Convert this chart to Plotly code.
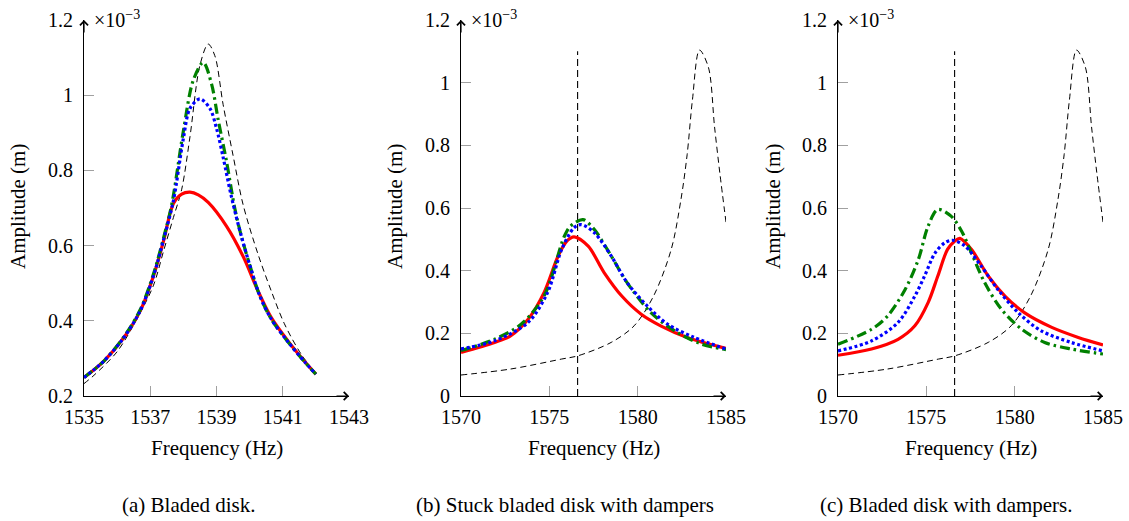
import plotly.graph_objects as go

# ---------------- data (amplitude in 1e-3 m) ----------------
# Panel (a) Bladed disk
fa_red = [1535, 1535.6, 1536.2, 1536.7, 1537.1, 1537.4, 1537.7, 1537.95, 1538.2, 1538.45, 1538.75,
          1539.3, 1539.8, 1540.25, 1540.65, 1541.15, 1541.65, 1542]
aa_red = [0.249, 0.293, 0.355, 0.427, 0.52, 0.612, 0.712, 0.737, 0.742, 0.735, 0.715,
          0.652, 0.572, 0.48, 0.409, 0.347, 0.293, 0.258]

fa_blue = [1535, 1535.6, 1536.2, 1536.7, 1537.1, 1537.4, 1537.7, 1538.0, 1538.2, 1538.5, 1538.8,
           1539.0, 1539.2, 1539.45, 1539.75, 1540.05, 1540.3, 1540.65, 1541.15, 1541.65, 1542]
aa_blue = [0.249, 0.293, 0.355, 0.427, 0.52, 0.615, 0.72, 0.885, 0.965, 0.99, 0.965,
           0.912, 0.835, 0.73, 0.625, 0.535, 0.468, 0.405, 0.345, 0.292, 0.258]

fa_green = [1535, 1535.6, 1536.2, 1536.7, 1537.1, 1537.4, 1537.65, 1538.0, 1538.3, 1538.6, 1538.85,
            1539.05, 1539.3, 1539.55, 1539.75, 1540.05, 1540.3, 1540.65, 1541.15, 1541.65, 1542]
aa_green = [0.249, 0.293, 0.357, 0.43, 0.525, 0.62, 0.71, 0.905, 1.04, 1.087, 1.03,
            0.935, 0.825, 0.70, 0.625, 0.535, 0.468, 0.405, 0.345, 0.292, 0.258]

fa_black = [1535, 1535.3, 1536.0, 1536.6, 1537.1, 1537.4, 1537.7, 1537.95, 1538.2, 1538.5, 1538.75,
            1538.95, 1539.2, 1539.5, 1539.8, 1540.25, 1540.65, 1541.05, 1541.55, 1542]
aa_black = [0.233, 0.255, 0.318, 0.405, 0.495, 0.585, 0.675, 0.75, 0.89, 1.08, 1.136,
            1.105, 0.975, 0.84, 0.71, 0.578, 0.48, 0.392, 0.312, 0.26]

# Reference (dashed) curve used in panels (b) and (c)
f_ref = [1570, 1572.8, 1575.7, 1576.6, 1578.5, 1579.8, 1580.9, 1581.9, 1582.45, 1582.8, 1583.1,
         1583.5, 1584.0, 1584.35, 1584.65, 1585]
a_ref = [0.067, 0.086, 0.118, 0.128, 0.171, 0.224, 0.319, 0.468, 0.627, 0.77, 0.945,
         1.104, 1.05, 0.86, 0.712, 0.555]

# vertical marker line
f_vline = 1576.6
a_vline = [0.0, 1.1]

# Panel (b) Stuck bladed disk with dampers
fb_red = [1570, 1571.9, 1572.8, 1573.8, 1574.7, 1575.5, 1576.0, 1576.4, 1577.2, 1578.1, 1579.1,
          1580.2, 1581.3, 1582.8, 1585]
ab_red = [0.139, 0.171, 0.192, 0.245, 0.33, 0.447, 0.495, 0.508, 0.478, 0.394, 0.319,
          0.261, 0.224, 0.187, 0.152]

fb_blue = [1570, 1571.9, 1573.8, 1574.9, 1575.7, 1576.4, 1576.8, 1577.55, 1578.5, 1579.4, 1580.55,
           1581.7, 1583.2, 1585]
ab_blue = [0.15, 0.176, 0.235, 0.33, 0.468, 0.537, 0.547, 0.521, 0.447, 0.362, 0.287,
           0.229, 0.187, 0.15]

fb_green = [1570, 1571.9, 1573.4, 1574.7, 1575.85, 1576.2, 1576.9, 1577.55, 1578.5, 1579.4, 1580.75,
            1582.1, 1583.6, 1585]
ab_green = [0.145, 0.181, 0.229, 0.319, 0.51, 0.542, 0.563, 0.531, 0.447, 0.362, 0.266,
            0.208, 0.166, 0.148]

# Panel (c) Bladed disk with dampers
fc_red = [1570, 1571.9, 1573.4, 1574.35, 1575.1, 1575.65, 1576.2, 1576.6, 1576.9, 1577.55, 1578.5,
          1579.45, 1580.55, 1582.1, 1583.6, 1585]
ac_red = [0.13, 0.15, 0.181, 0.224, 0.298, 0.383, 0.468, 0.494, 0.503, 0.468, 0.383,
          0.319, 0.266, 0.219, 0.187, 0.163]

fc_blue = [1570, 1571.9, 1573.4, 1574.35, 1574.9, 1575.5, 1576.05, 1576.5, 1577.2, 1578.1, 1579.05,
           1580.2, 1581.5, 1583.2, 1585]
ac_blue = [0.144, 0.176, 0.235, 0.319, 0.383, 0.457, 0.489, 0.497, 0.478, 0.415, 0.34,
           0.266, 0.208, 0.171, 0.144]

fc_green = [1570, 1571.9, 1572.8, 1573.8, 1574.55, 1575.1, 1575.65, 1576.4, 1577.0, 1577.55, 1578.3,
            1579.25, 1580.4, 1581.7, 1583.2, 1585]
ac_green = [0.165, 0.213, 0.255, 0.34, 0.436, 0.542, 0.595, 0.574, 0.526, 0.457, 0.362,
            0.277, 0.213, 0.171, 0.15, 0.134]

# ticks
xt_a = [1535, 1537, 1539, 1541, 1543]
yt_a = [0.2, 0.4, 0.6, 0.8, 1.0, 1.2]
yl_a = ["0.2", "0.4", "0.6", "0.8", "1", "1.2"]
xt_bc = [1570, 1575, 1580, 1585]
yt_bc = [0, 0.2, 0.4, 0.6, 0.8, 1.0, 1.2]
yl_bc = ["0", "0.2", "0.4", "0.6", "0.8", "1", "1.2"]

captions = ["(a) Bladed disk.", "(b) Stuck bladed disk with dampers", "(c) Bladed disk with dampers."]

# ---------------- styles ----------------
W, H = 1129, 521
FONT = "Liberation Serif"
RED = dict(color="#ff0000", width=3.2)
BLUE = dict(color="#0000ff", width=3.2, dash="3px,2.6px")
GREEN = dict(color="#008000", width=3.2, dash="10px,4px,2.5px,4px")
BLACK = dict(color="#000000", width=1.0, dash="6px,4px")
VLINE = dict(color="#000000", width=1.1, dash="7px,4px")

fig = go.Figure()

def add(xs, ys, line, k, spline=True):
    ln = dict(line)
    ln["shape"] = "spline" if spline else "linear"
    if spline:
        ln["smoothing"] = 0.9
    fig.add_trace(go.Scatter(x=xs, y=ys, mode="lines", line=ln,
                             xaxis="x" if k == 1 else f"x{k}", yaxis="y" if k == 1 else f"y{k}",
                             hoverinfo="skip"))

# panel a
add(fa_black, aa_black, BLACK, 1)
add(fa_red, aa_red, RED, 1)
add(fa_green, aa_green, GREEN, 1)
add(fa_blue, aa_blue, BLUE, 1)
# panel b
add(f_ref, a_ref, BLACK, 2)
add([f_vline, f_vline], a_vline, VLINE, 2, spline=False)
add(fb_red, ab_red, RED, 2)
add(fb_green, ab_green, GREEN, 2)
add(fb_blue, ab_blue, BLUE, 2)
# panel c
add(f_ref, a_ref, BLACK, 3)
add([f_vline, f_vline], a_vline, VLINE, 3, spline=False)
add(fc_red, ac_red, RED, 3)
add(fc_green, ac_green, GREEN, 3)
add(fc_blue, ac_blue, BLUE, 3)

px2x = lambda p: p / W
px2y = lambda p: 1 - p / H

y_dom = [px2y(396), px2y(20)]
x_doms = [[px2x(84), px2x(349)], [px2x(461), px2x(726)], [px2x(838), px2x(1103)]]

tickfont = dict(family=FONT, size=20, color="black")
common_axis = dict(showline=True, linecolor="black", linewidth=1.2, showgrid=False, zeroline=False,
                   ticks="inside", ticklen=10, tickwidth=1.2, tickcolor="#a0a0a0",
                   tickfont=tickfont, fixedrange=True, automargin=False)

layout = dict(width=W, height=H, margin=dict(l=0, r=0, t=0, b=0, pad=0), template="none",
              paper_bgcolor="white", plot_bgcolor="white", showlegend=False,
              font=dict(family=FONT, color="black"))

xranges = [[1535, 1543], [1570, 1585], [1570, 1585]]
yranges = [[0.2, 1.2], [0, 1.2], [0, 1.2]]
xticks = [xt_a, xt_bc, xt_bc]
yticks = [(yt_a, yl_a), (yt_bc, yl_bc), (yt_bc, yl_bc)]

for i in range(3):
    k = "" if i == 0 else str(i + 1)
    layout["xaxis" + k] = dict(common_axis, domain=x_doms[i], range=xranges[i], tickvals=xticks[i],
                               ticktext=[str(v) for v in xticks[i]], anchor="y" + k,
                               ticklabelstandoff=3)
    layout["yaxis" + k] = dict(common_axis, domain=y_dom, range=yranges[i], tickvals=yticks[i][0],
                               ticktext=yticks[i][1], anchor="x" + k, ticklabelstandoff=6)

annotations = []
amp_x = [18, 395, 773]
cap_x = [189, 565, 946]
for i in range(3):
    k = "" if i == 0 else str(i + 1)
    x0, x1 = xranges[i]
    y0, y1 = yranges[i]
    # axis arrows
    annotations.append(dict(xref="x" + k, yref="y" + k, x=x0, y=y1, ax=0, ay=14, text="",
                            showarrow=True, arrowhead=4, arrowsize=1.3, arrowwidth=1.2, arrowcolor="black"))
    annotations.append(dict(xref="x" + k, yref="y" + k, x=x1, y=y0, ax=-14, ay=0, text="",
                            showarrow=True, arrowhead=4, arrowsize=1.3, arrowwidth=1.2, arrowcolor="black"))
    # multiplier label
    annotations.append(dict(xref="x" + k + " domain", yref="y" + k, x=0, y=y1, xshift=8, yshift=1,
                            xanchor="left", yanchor="middle", showarrow=False,
                            text="×10<sup>−3</sup>", font=dict(family=FONT, size=20, color="black")))
    # axis titles
    annotations.append(dict(xref="paper", yref="paper", x=(x_doms[i][0] + x_doms[i][1]) / 2, y=px2y(448),
                            xanchor="center", yanchor="middle", showarrow=False,
                            text="Frequency (Hz)", font=dict(family=FONT, size=21, color="black")))
    annotations.append(dict(xref="paper", yref="paper", x=px2x(amp_x[i]), y=px2y(207), textangle=-90,
                            xanchor="center", yanchor="middle", showarrow=False,
                            text="Amplitude (m)", font=dict(family=FONT, size=21, color="black")))
    # captions
    annotations.append(dict(xref="paper", yref="paper", x=px2x(cap_x[i]), y=px2y(505),
                            xanchor="center", yanchor="middle", showarrow=False,
                            text=captions[i], font=dict(family=FONT, size=21, color="black")))

layout["annotations"] = annotations
fig.update_layout(**layout)
fig.write_html("out.html")
